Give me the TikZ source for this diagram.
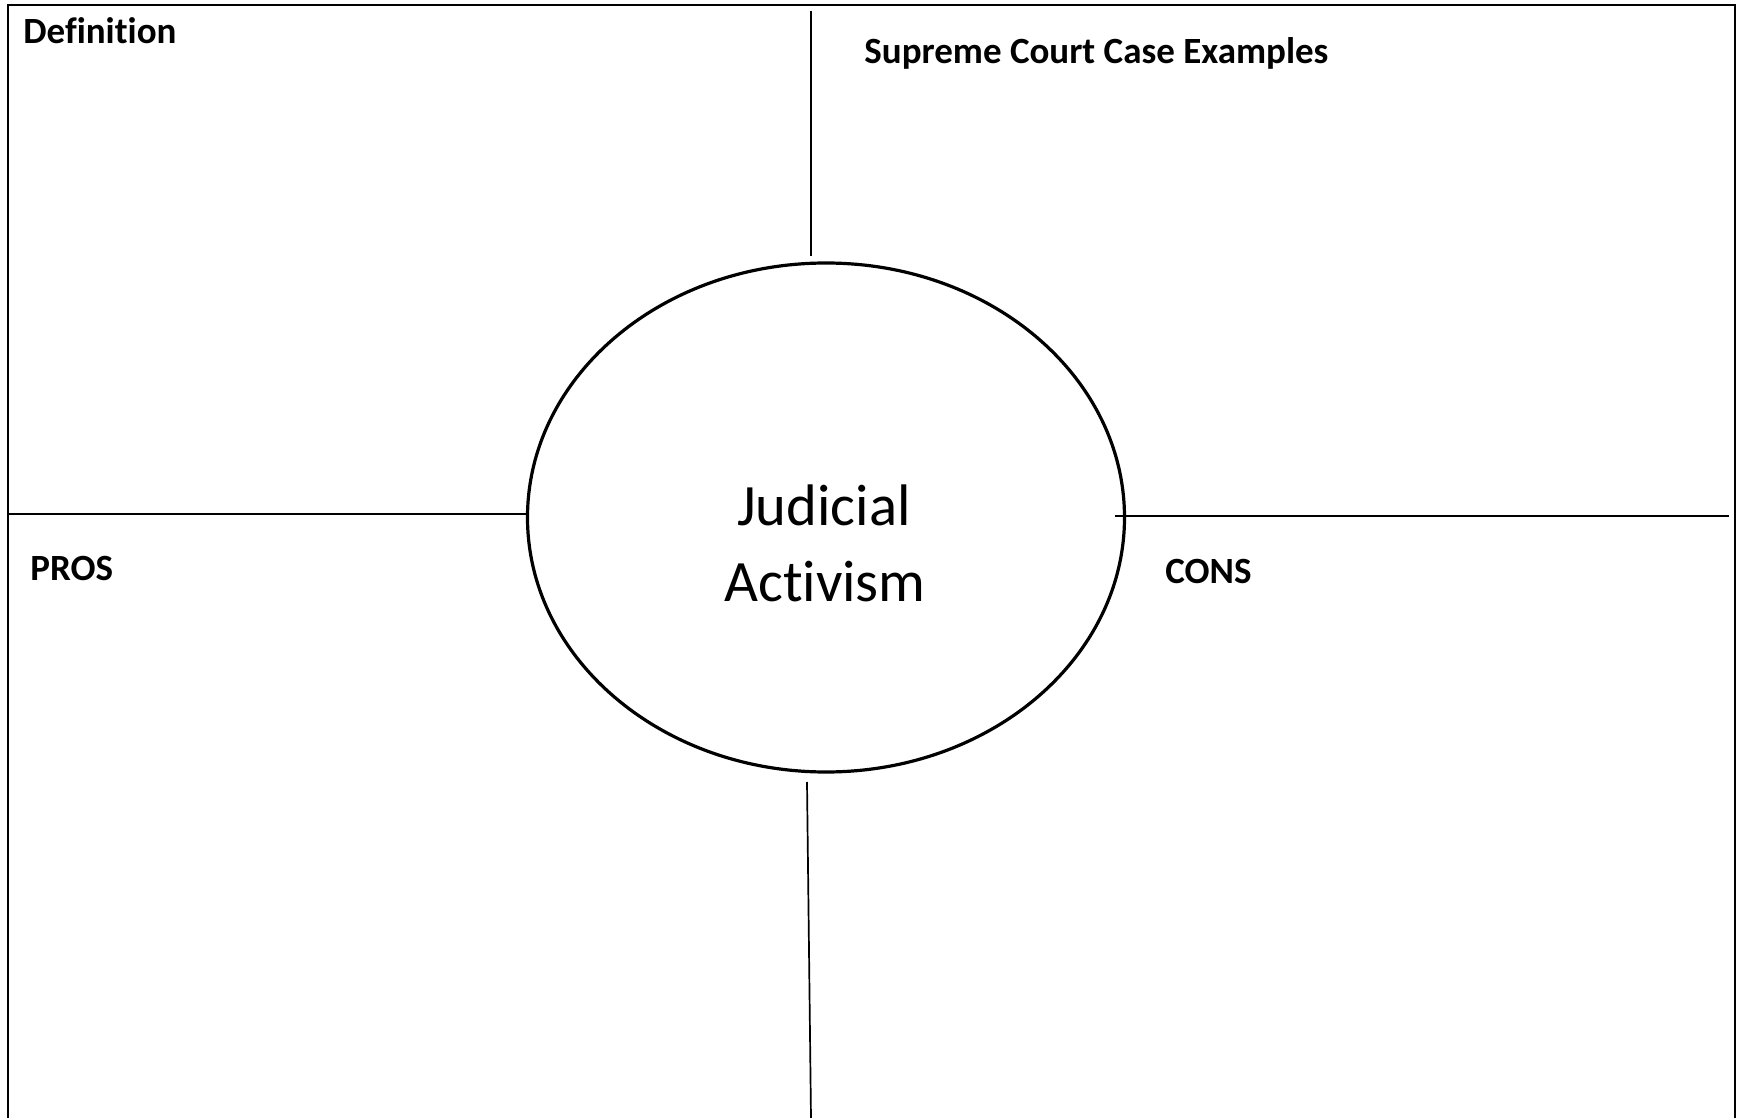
\documentclass[tikz,border=0pt]{standalone}
\usepackage{fontspec}
\setmainfont[Ligatures={NoCommon}]{Carlito}
\usetikzlibrary{shapes.geometric}
\begin{document}
\begin{tikzpicture}[x=0.5pt,y=-0.5pt,
  frame/.style={line width=1pt},
  divider/.style={line width=0.85pt},
  hubshape/.style={draw,ellipse,line width=1.6pt,minimum width=298.5pt,minimum height=254.5pt,inner sep=0pt},
  label/.style={font=\fontsize{18.5}{22}\selectfont\bfseries,anchor=base west,inner sep=0pt},
  hubtext/.style={font=\fontsize{29.3}{35}\selectfont,anchor=base,inner sep=0pt}]
\useasboundingbox (0,0) rectangle (1737,1118);
% frame
\coordinate (fbl) at (8,1118);
\coordinate (ftl) at (8,5);
\coordinate (ftr) at (1735,5);
\coordinate (fbr) at (1735,1118);
\draw[frame] (fbl) -- (ftl) -- (ftr) -- (fbr);
% central ellipse
\node[hubshape] (hub) at (826,517.5) {};
\node[hubtext] (t1) at (824,525) {Judicial};
\node[hubtext] (t2) at (825,602) {Activism};
% dividers
\coordinate (topend) at (811,11);
\coordinate (topstart) at (811,256);
\draw[divider] (topend) -- (topstart);
\coordinate (botstart) at (807,782);
\coordinate (botend) at (811,1118);
\draw[divider] (botstart) -- (botend);
\coordinate (leftend) at (8,514);
\coordinate (leftstart) at (527,514);
\draw[divider] (leftend) -- (leftstart);
\coordinate (rightstart) at (1115,516);
\coordinate (rightend) at (1729,516);
\draw[divider] (rightstart) -- (rightend);
% labels
\node[label] (def) at (23,44) {Definition};
\node[label] (sup) at (864,64) {Supreme Court Case Examples};
\node[label] (pros) at (30,581) {PROS};
\node[label] (cons) at (1165,583) {CONS};
\end{tikzpicture}
\end{document}
